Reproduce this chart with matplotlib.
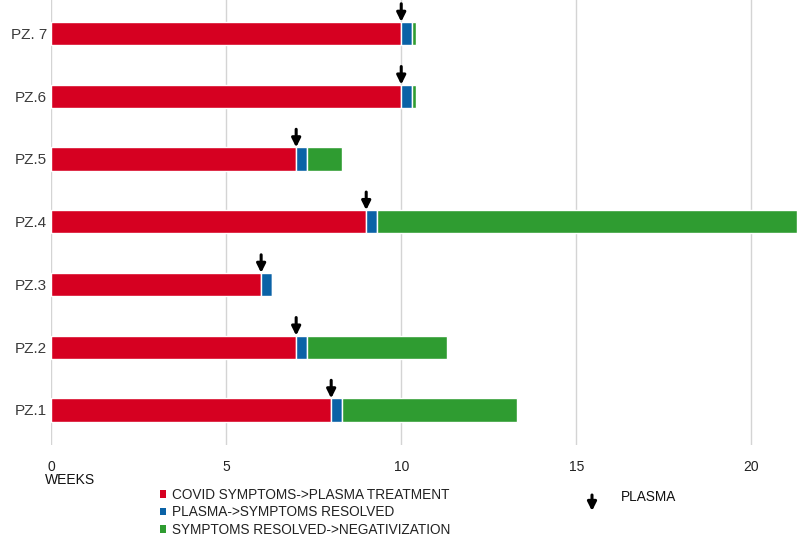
import matplotlib.pyplot as plt
from matplotlib.patches import Patch, FancyArrowPatch
import numpy as np

plt.rcParams['font.family'] = ['Liberation Sans', 'DejaVu Sans']

# Patients, bottom to top
patients = ['PZ.1', 'PZ.2', 'PZ.3', 'PZ.4', 'PZ.5', 'PZ.6', 'PZ. 7']
# weeks in each phase
covid_to_plasma = [8, 7, 6, 9, 7, 10, 10]
plasma_to_resolved = [0.3, 0.3, 0.3, 0.3, 0.3, 0.3, 0.3]
resolved_to_neg = [5.0, 4.0, 0, 12.0, 1.0, 0.13, 0.13]

labels = ['COVID SYMPTOMS->PLASMA TREATMENT',
          'PLASMA->SYMPTOMS RESOLVED',
          'SYMPTOMS RESOLVED->NEGATIVIZATION']
colors = ['#d60021', '#0a62a6', '#2f9c31']

fig = plt.figure(figsize=(8, 5.37), dpi=100)
ax = fig.add_axes([51/800, 92/537, 746/800, 445/537])

y = np.arange(len(patients))
h = 0.37
red = np.array(covid_to_plasma, dtype=float)
blue = np.array(plasma_to_resolved)
green = np.array(resolved_to_neg)

ax.barh(y, red, h, color=colors[0], edgecolor='white', linewidth=1, zorder=2)
ax.barh(y, blue, h, left=red, color=colors[1], edgecolor='white', linewidth=1, zorder=2)
ax.barh(y, green, h, left=red + blue, color=colors[2], edgecolor='white', linewidth=1, zorder=2)

# plasma arrows
for yi, xi in zip(y, red):
    ax.annotate('', xy=(xi, yi + h/2), xytext=(0, 13), textcoords='offset points',
                arrowprops=dict(arrowstyle='-|>', color='black', lw=2.2, mutation_scale=13,
                                shrinkA=0, shrinkB=0), zorder=3)

ax.set_xlim(0, 21.3)
ax.set_ylim(-0.558, 6.533)
ax.set_xticks([0, 5, 10, 15, 20])
ax.set_yticks(y)
ax.set_yticklabels(patients)
ax.tick_params(length=0, labelsize=10, colors='#222222')
ax.tick_params(axis='x', pad=11)
ax.tick_params(axis='y', pad=3, labelsize=11, labelcolor='#3a3a3a')
ax.grid(True, axis='x', color='#d4d4d4', linewidth=1, zorder=0)
ax.set_axisbelow(True)
for s in ax.spines.values():
    s.set_visible(False)

fig.text(45/800, 1 - 480/537, 'WEEKS', fontsize=10, va='center', ha='left', color='#111111')

handles = [Patch(facecolor=c, label=l) for c, l in zip(colors, labels)]
fig.legend(handles=handles, loc='upper left', bbox_to_anchor=(160/800, 1 - 488/537),
           frameon=False, fontsize=9.8, labelspacing=0.25, handlelength=0.45,
           handleheight=0.45, handletextpad=0.4, borderpad=0, borderaxespad=0,
           labelcolor='#222222')

fig.patches.append(FancyArrowPatch(
    (592/800, 1 - 495/537), (592/800, 1 - 511/537), transform=fig.transFigure,
    arrowstyle='-|>', color='black', lw=2.2, mutation_scale=13, shrinkA=0, shrinkB=0))
fig.text(621/800, 1 - 497/537, 'PLASMA', fontsize=9.8, va='center', ha='left', color='#111111')

plt.savefig('out.png', dpi=100)
